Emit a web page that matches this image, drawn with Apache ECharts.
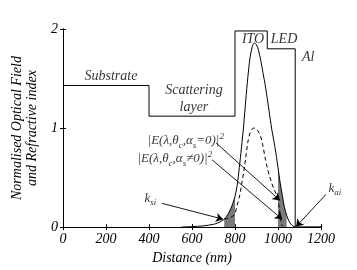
<!DOCTYPE html>
<html><head><meta charset="utf-8">
<script src="https://cdn.jsdelivr.net/npm/echarts@6/dist/echarts.min.js"></script>
<style>html,body{margin:0;padding:0;background:#fff}#c{width:357px;height:270px}</style>
</head><body><div id="c"></div>
<script>
// Refractive index profile (layer boundaries in nm, index per layer)
const layerEdges = [0, 400, 800, 950, 1080, 1200];
const layerIndex = [1.43, 1.12, 1.98, 1.80, 0.0];
// Layer names and label positions (data coords)
const layerLabels = [
  {name: 'Substrate', x: 223, y: 1.52},
  {name: 'Scattering\nlayer', x: 609, y: 1.30},
  {name: 'ITO', x: 884, y: 1.90},
  {name: 'LED', x: 1028, y: 1.90},
  {name: 'Al', x: 1140, y: 1.71}
];
// |E|^2 for alpha_s != 0 (solid)
const solidX = [550,600,650,700,720,740,750,760,770,780,790,800,810,820,830,840,850,860,870,880,890,900,910,920,930,940,950,960,970,980,990,1000,1010,1020,1030,1040,1050,1060,1070,1080,1200];
const solidY = [0,0.005,0.012,0.028,0.042,0.065,0.08,0.105,0.14,0.185,0.24,0.31,0.42,0.6,0.8,1.02,1.28,1.52,1.71,1.82,1.86,1.84,1.78,1.68,1.56,1.44,1.30,1.15,1.0,0.88,0.75,0.6,0.45,0.32,0.2,0.12,0.065,0.03,0.01,0,0];
// |E|^2 for alpha_s = 0 (dashed)
const dashX = [750,760,770,780,790,800,810,820,830,840,850,860,870,880,890,900,910,920,930,940,950,960,970,980,990,1000,1005,1010,1015,1020];
const dashY = [0.08,0.085,0.09,0.1,0.11,0.14,0.22,0.3,0.42,0.55,0.7,0.86,0.95,0.99,1.0,0.99,0.96,0.91,0.82,0.7,0.6,0.52,0.45,0.39,0.34,0.27,0.2,0.12,0.05,0.01];
// shaded ranges (nm)
const shadeRanges = [[750, 800], [1000, 1040]];
// annotations: text and arrows (data coords)
const annotations = [
  {text: '|E(λ,θ{sub|c},α{sub|s}=0)|{sup|2}', x: 391, y: 0.87},
  {text: '|E(λ,θ{sub|c},α{sub|s}≠0)|{sup|2}', x: 344, y: 0.69},
  {text: 'k{sub|si}', x: 377, y: 0.29},
  {text: 'k{sub|ai}', x: 1233, y: 0.39}
];
const arrows = [
  [[712, 0.85], [1009, 0.27]],
  [[693, 0.68], [1019, 0.08]],
  [[460, 0.24], [744, 0.08]],
  [[1223, 0.33], [1084, 0.005]]
];
const xTicks = {min: 0, max: 1200, interval: 200};
const yTicks = {min: 0, max: 2, interval: 1};

const FONT = "'Liberation Serif','Times New Roman',serif";
const stepData = [];
layerIndex.forEach((v, i) => { stepData.push([layerEdges[i], v]); stepData.push([layerEdges[i+1], v]); });
const solidData = solidX.map((x, i) => [x, solidY[i]]);
const dashData = dashX.map((x, i) => [x, dashY[i]]);
const shadeSeries = shadeRanges.map(r => ({
  type: 'line', data: solidData.filter(p => p[0] >= r[0] && p[0] <= r[1]),
  symbol: 'none', lineStyle: {width: 0}, areaStyle: {color: '#7a7a7a', opacity: 1, origin: 'start'}, z: 1, silent: true
}));
function toRich(s) {
  return s.split(/(\{(?:sub|sup)\|[^}]*\})/).filter(t => t.length).map(t => t.startsWith('{') ? t : '{b|' + t + '}').join('');
}
const rich = {
  b: {fontSize: 13, fontFamily: FONT, fontStyle: 'italic', color: '#000', lineHeight: 18},
  sub: {fontSize: 9, fontFamily: FONT, fontStyle: 'italic', color: '#000', verticalAlign: 'bottom', lineHeight: 12},
  sup: {fontSize: 9, fontFamily: FONT, fontStyle: 'italic', color: '#000', verticalAlign: 'top', lineHeight: 12}
};
const axisCommon = {
  axisLine: {show: true, lineStyle: {color: '#000', width: 1}},
  axisTick: {show: true, inside: true, length: 3, lineStyle: {color: '#000'}},
  splitLine: {show: false}
};
const chart = echarts.init(document.getElementById('c'), null, {renderer: 'canvas'});
chart.setOption({
  animation: false,
  backgroundColor: '#fff',
  grid: {left: 63, right: 36, top: 29, bottom: 39},
  xAxis: [
    Object.assign({type: 'value', position: 'bottom', min: xTicks.min, max: xTicks.max, interval: xTicks.interval,
      axisLabel: {fontFamily: FONT, fontStyle: 'italic', fontSize: 14, color: '#000', margin: 5, formatter: v => String(v)},
      name: 'Distance (nm)', nameLocation: 'middle', nameGap: 20,
      nameTextStyle: {fontFamily: FONT, fontStyle: 'italic', fontSize: 14, color: '#000'}}, axisCommon),
    Object.assign({type: 'value', position: 'top', min: xTicks.min, max: xTicks.max, interval: xTicks.interval,
      axisLabel: {show: false}}, axisCommon)
  ],
  yAxis: [
    Object.assign({type: 'value', position: 'left', min: yTicks.min, max: yTicks.max, interval: yTicks.interval,
      axisLabel: {fontFamily: FONT, fontStyle: 'italic', fontSize: 14, color: '#000', margin: 5, formatter: v => String(v)},
      name: 'Normalised Optical Field\nand Refractive index', nameLocation: 'middle', nameGap: 19,
      nameTextStyle: {fontFamily: FONT, fontStyle: 'italic', fontSize: 14, color: '#000', lineHeight: 15}}, axisCommon),
    Object.assign({type: 'value', position: 'right', min: yTicks.min, max: yTicks.max, interval: yTicks.interval,
      axisLabel: {show: false}}, axisCommon)
  ],
  series: [
    ...shadeSeries,
    {type: 'line', data: stepData, symbol: 'none', lineStyle: {color: '#000', width: 1}, z: 3},
    {type: 'line', data: solidData, symbol: 'none', smooth: 0.3, lineStyle: {color: '#000', width: 1}, z: 3},
    {type: 'line', data: dashData, symbol: 'none', smooth: 0.3, lineStyle: {color: '#000', width: 1, type: [4, 3]}, z: 3},
    {type: 'lines', coordinateSystem: 'cartesian2d', clip: false, z: 4,
      data: arrows.map(a => ({coords: a})), symbol: ['none', 'arrow'], symbolSize: [0, 7],
      lineStyle: {color: '#000', width: 0.9, opacity: 1}},
    {type: 'scatter', clip: false, symbolSize: 1, itemStyle: {color: 'rgba(0,0,0,0)'}, z: 5,
      data: layerLabels.map(l => ({name: l.name, value: [l.x, l.y]})),
      label: {show: true, position: 'inside', formatter: p => p.name, fontFamily: FONT, fontStyle: 'italic', fontSize: 14, color: '#000', lineHeight: 17}},
    {type: 'scatter', clip: false, symbolSize: 1, itemStyle: {color: 'rgba(0,0,0,0)'}, z: 5,
      data: annotations.map(l => ({name: l.text, value: [l.x, l.y]})),
      label: {show: true, position: 'right', distance: 0, fontFamily: FONT, fontStyle: 'italic', fontSize: 13, color: '#000',
        formatter: p => toRich(p.name), rich: rich}}
  ]
});
</script></body></html>
